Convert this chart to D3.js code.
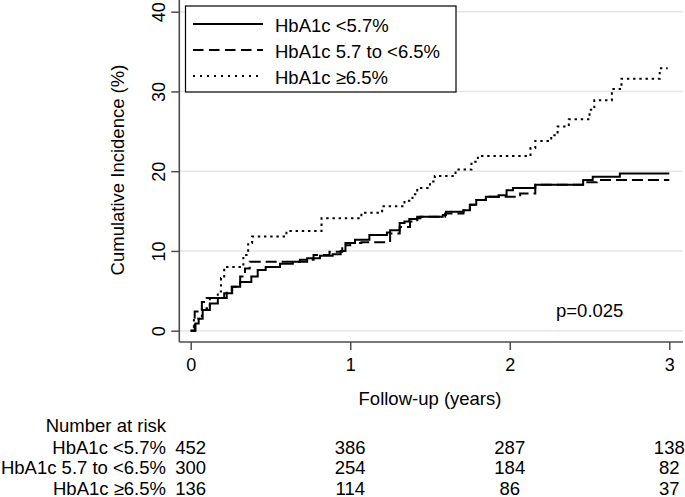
<!DOCTYPE html>
<html>
<head>
<meta charset="utf-8">
<script src="https://cdn.jsdelivr.net/npm/d3@7"></script>
<style>
  html, body { margin: 0; padding: 0; background: #fff; }
  svg { display: block; font-family: "Liberation Sans", Arial, Helvetica, sans-serif; }
</style>
</head>
<body>
<svg id="chart" width="685" height="497"></svg>
<script>
// ---- Data ----
const groupNames = ["HbA1c <5.7%", "HbA1c 5.7 to <6.5%", "HbA1c \u22656.5%"];

// step events: [time (years), cumulative incidence (%)]
const seriesLow = [
  [0,0],[0.03,0.9],[0.05,1.5],[0.075,2.6],[0.12,3.4],[0.17,4.1],[0.21,4.7],[0.26,5.5],
  [0.31,6.1],[0.38,6.8],[0.42,7.6],[0.47,8.0],[0.56,8.4],[0.64,8.65],[0.73,9.1],[0.81,9.4],
  [0.89,9.6],[0.94,10.0],[0.97,11.0],[1.03,11.4],[1.12,12.0],[1.23,12.3],[1.25,12.6],
  [1.31,13.5],[1.34,13.7],[1.37,14.0],[1.42,14.3],[1.58,14.5],[1.60,14.9],[1.71,15.1],
  [1.75,15.8],[1.79,16.4],[1.85,16.8],[1.93,17.0],[1.98,17.6],[2.02,17.9],[2.16,18.3],
  [2.46,18.9],[2.52,19.3],[2.69,19.7],[3.0,19.7]
];
const seriesMid = [
  [0,0],[0.025,2.4],[0.07,3.6],[0.10,4.1],[0.226,5.0],[0.257,5.5],[0.31,6.8],[0.34,7.8],
  [0.37,8.65],[0.685,8.9],[0.77,9.5],[0.87,9.9],[0.95,10.7],[1.0,11.0],[1.07,11.1],
  [1.25,12.2],[1.31,13.0],[1.375,13.7],[1.42,14.1],[1.44,14.3],[1.595,14.7],[1.71,15.1],
  [1.75,15.8],[1.79,16.4],[1.85,16.8],[2.065,17.2],[2.16,18.3],[2.48,18.6],[2.545,18.9],
  [3.0,18.9]
];
const seriesHigh = [
  [0,0],[0.02,1.5],[0.07,2.8],[0.12,4.1],[0.17,4.9],[0.19,6.6],[0.21,8.0],[0.33,9.5],
  [0.36,11.0],[0.385,11.8],[0.60,12.5],[0.82,14.1],[1.07,14.8],[1.20,15.6],[1.34,16.3],
  [1.39,17.1],[1.42,17.9],[1.50,18.7],[1.53,19.4],[1.66,20.2],[1.76,21.2],[1.80,21.9],
  [2.13,22.9],[2.16,23.8],[2.26,24.5],[2.30,25.6],[2.37,26.5],[2.50,27.7],[2.53,28.9],
  [2.64,30.3],[2.70,31.6],[2.94,32.9],[2.99,32.9]
];

const xTicks = [0, 1, 2, 3];
const yTicks = [0, 10, 20, 30, 40];

const riskTimes = [0, 1, 2, 3];
const riskLow  = [452, 386, 287, 138];
const riskMid  = [300, 254, 184, 82];
const riskHigh = [136, 114, 86, 37];

const pValueText = "p=0.025";

// ---- Drawing ----
const svg = d3.select("#chart");
const x = d3.scaleLinear().domain([0, 3]).range([190.7, 669.3]);
const y = d3.scaleLinear().domain([0, 40]).range([330.7, 11.7]);

const axisX = 179.3, axisY = 342;
const axisColor = "#4d4d4d";
const fs = "18.5px";

// gridlines
svg.append("g").selectAll("line").data(yTicks).join("line")
  .attr("x1", axisX).attr("x2", 683)
  .attr("y1", d => y(d)).attr("y2", d => y(d))
  .attr("stroke", "#e6e6e6").attr("stroke-width", 1.5);

// y axis
const gy = svg.append("g").attr("transform", `translate(${axisX},0)`)
  .call(d3.axisLeft(y).tickValues(yTicks).tickSize(8).tickFormat(d3.format("d")));
gy.select(".domain").remove();
gy.selectAll(".tick line").attr("stroke", axisColor).attr("stroke-width", 1.5);
gy.selectAll(".tick text").remove();
gy.selectAll(".tick").append("text")
  .attr("transform", "translate(-14,0) rotate(-90)")
  .attr("text-anchor", "middle")
  .attr("fill", "#000")
  .style("font-size", "18px")
  .text(d => d);
svg.append("line").attr("x1", axisX).attr("x2", axisX).attr("y1", 0).attr("y2", axisY)
  .attr("stroke", axisColor).attr("stroke-width", 1.6);

// x axis
const gx = svg.append("g").attr("transform", `translate(0,${axisY})`)
  .call(d3.axisBottom(x).tickValues(xTicks).tickSize(8).tickFormat(d3.format("d")));
gx.select(".domain").remove();
gx.selectAll(".tick line").attr("stroke", axisColor).attr("stroke-width", 1.5);
gx.selectAll(".tick text").attr("y", 28.5).attr("dy", 0)
  .attr("fill", "#000").style("font-size", "18px").attr("font-family", null);
svg.append("line").attr("x1", axisX).attr("x2", 683).attr("y1", axisY).attr("y2", axisY)
  .attr("stroke", axisColor).attr("stroke-width", 1.6);

// axis titles
svg.append("text")
  .attr("transform", `translate(124,170) rotate(-90)`)
  .attr("text-anchor", "middle").style("font-size", fs)
  .text("Cumulative Incidence (%)");
svg.append("text").attr("x", 430).attr("y", 404.5)
  .attr("text-anchor", "middle").style("font-size", fs)
  .text("Follow-up (years)");

// curves
const line = d3.line().x(d => x(d[0])).y(d => y(d[1])).curve(d3.curveStepAfter);
const styles = [
  { data: seriesLow, dash: null },
  { data: seriesMid, dash: "11,5" },
  { data: seriesHigh, dash: "2.4,3.8" }
];
styles.forEach(s => {
  svg.append("path").datum(s.data)
    .attr("d", line).attr("fill", "none")
    .attr("stroke", "#000").attr("stroke-width", 2)
    .attr("stroke-dasharray", s.dash);
});

// p value
svg.append("text").attr("x", 556).attr("y", 317).style("font-size", fs).text(pValueText);

// legend
const lg = svg.append("g");
lg.append("rect").attr("x", 185.5).attr("y", 6).attr("width", 270.5).attr("height", 86)
  .attr("fill", "#fff").attr("stroke", "#000").attr("stroke-width", 1.2);
const legendDash = [null, "10.5,5.5", "2,5"];
groupNames.forEach((name, i) => {
  const ly = 24 + i * 26;
  lg.append("line").attr("x1", 193).attr("x2", 263).attr("y1", ly).attr("y2", ly)
    .attr("stroke", "#000").attr("stroke-width", 2).attr("stroke-dasharray", legendDash[i]);
  lg.append("text").attr("x", 275).attr("y", ly + 7.5).style("font-size", fs).text(name);
});

// number at risk table
svg.append("text").attr("x", 166).attr("y", 432).attr("text-anchor", "end")
  .style("font-size", fs).text("Number at risk");
const riskRows = [riskLow, riskMid, riskHigh];
riskRows.forEach((row, i) => {
  const ry = 453.5 + i * 20.5;
  svg.append("text").attr("x", 166).attr("y", ry).attr("text-anchor", "end")
    .style("font-size", fs).text(groupNames[i]);
  svg.append("g").selectAll("text").data(row).join("text")
    .attr("x", (d, j) => x(riskTimes[j])).attr("y", ry)
    .attr("text-anchor", "middle").style("font-size", fs)
    .text(d => d);
});
</script>
</body>
</html>
